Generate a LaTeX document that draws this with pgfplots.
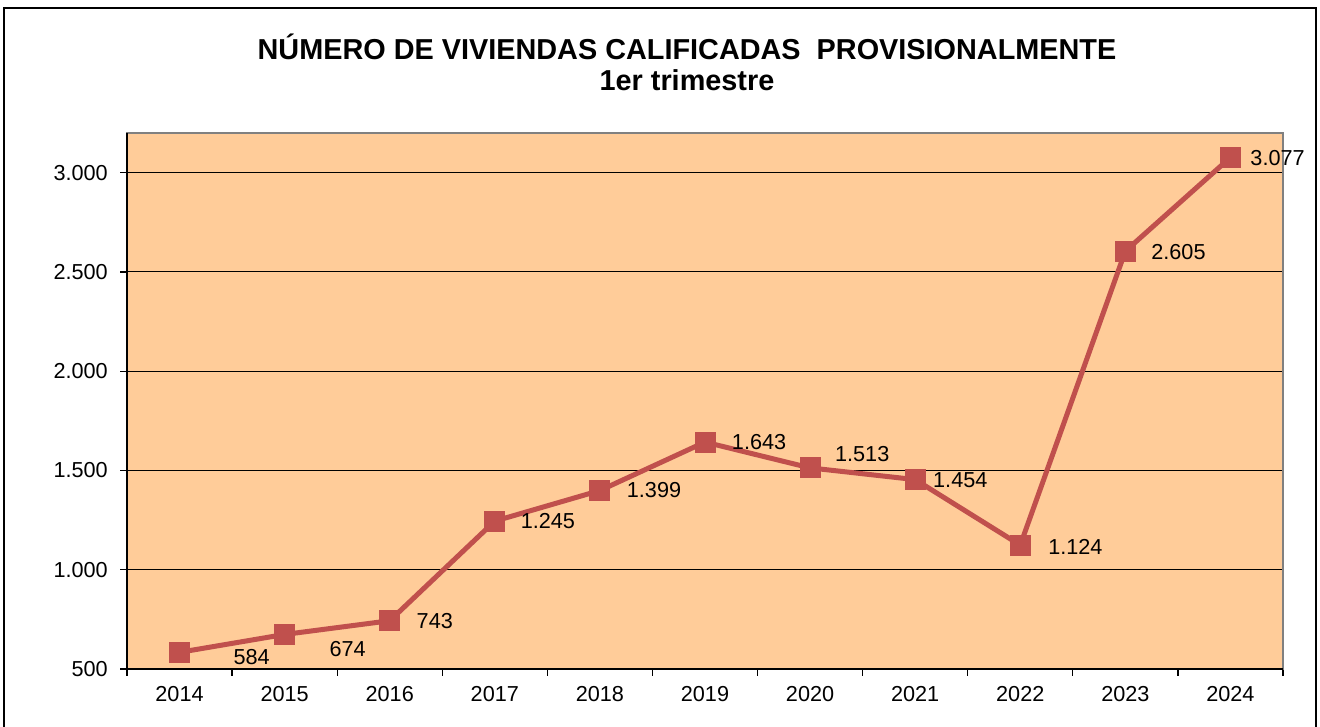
\documentclass[border=0pt]{standalone}
\usepackage{fontspec}
\setmainfont{Liberation Sans}
\usepackage{pgfplots}
\usepackage{pgfplotstable}
\pgfplotsset{compat=1.18}
\definecolor{bgor}{HTML}{FFCC99}
\definecolor{lred}{HTML}{C0504D}
\pgfplotstableread{
x y dx dy
0 584 54 -5
1 674 45 -15
2 743 27 0
3 1245 26 0
4 1399 27 0
5 1643 27 0
6 1513 25 14
7 1454 18 -1
8 1124 28 -2
9 2605 26 -1
10 3077 20 -1
}\datatable
\begin{document}
\begin{tikzpicture}
\begin{scope}[x=0.6pt,y=0.6pt]
\useasboundingbox (-127,-58) rectangle (1193,669);
\fill[white] (-127,-58) rectangle (1193,669);
\draw[black, line width=1pt] (-123,-70) -- (-123,661) -- (1189,661) -- (1189,-70);
\node[font=\fontsize{17.3}{20}\selectfont\bfseries] at (560,622) {NÚMERO DE VIVIENDAS CALIFICADAS\ \ PROVISIONALMENTE};
\node[font=\fontsize{17.3}{20}\selectfont\bfseries] at (560,589) {1er trimestre};
\end{scope}
\begin{axis}[
  at={(0,0)}, anchor=south west,
  scale only axis, width=693.6pt, height=321.6pt,
  xmin=-0.5, xmax=10.5, ymin=500, ymax=3200,
  axis background/.style={fill=bgor},
  axis line style={draw=gray, line width=0.8pt},
  xtick={0,...,10},
  xticklabels={2014,2015,2016,2017,2018,2019,2020,2021,2022,2023,2024},
  major x tick style={draw=none},
  minor xtick={-0.5,0.5,...,10.5},
  minor x tick style={draw=black, line width=0.8pt},
  minor tick length=4pt,
  ytick={500,1000,...,3000},
  major y tick style={draw=black, line width=0.8pt},
  major tick length=4pt,
  tick align=outside,
  tick pos=left,
  ymajorgrids,
  major grid style={draw=black, line width=0.6pt},
  ticklabel style={font=\fontsize{13}{15}\selectfont},
  /pgf/number format/assume math mode=true,
  /pgf/number format/1000 sep={.},
  /pgf/number format/min exponent for 1000 sep=3,
  xticklabel style={yshift=-3pt},
  yticklabel style={xshift=-4pt},
  clip=false,
]
\addplot[lred, line width=3pt, mark=square*, mark size=6pt, mark options={fill=lred, draw=lred, line width=0pt},
  nodes near coords,
  visualization depends on={\thisrow{dx} \as \dx},
  visualization depends on={\thisrow{dy} \as \dy},
  nodes near coords style={anchor=west, inner sep=0pt, text=black, font=\fontsize{13}{15}\selectfont, xshift={\dx*0.6pt}, yshift={\dy*0.6pt}},
] table[x=x,y=y] {\datatable};
\draw[black, line width=0.8pt] (rel axis cs:0,1) -- (rel axis cs:0,0) -- (rel axis cs:1,0);
\end{axis}
\end{tikzpicture}
\end{document}
